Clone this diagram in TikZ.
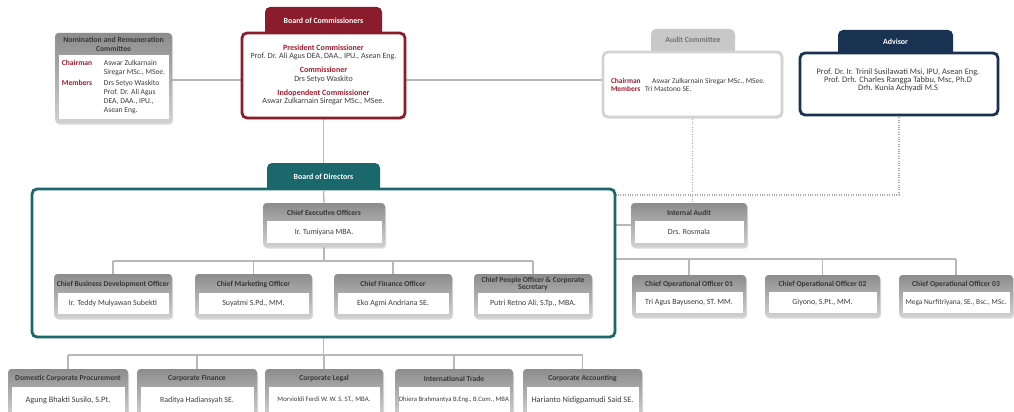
\documentclass[tikz,border=0pt]{standalone}
\usepackage{fontspec}
\setmainfont{Carlito}
\usetikzlibrary{shadows}
\pgfdeclarelayer{canvas}
\pgfdeclarelayer{background}
\pgfsetlayers{canvas,background,main}
\definecolor{boxmaroon}{RGB}{138,28,43}
\definecolor{labred}{RGB}{160,30,48}
\definecolor{bodteal}{RGB}{27,104,108}
\definecolor{advnavy}{RGB}{25,50,82}
\definecolor{conngray}{RGB}{184,184,184}
\definecolor{dotgray}{RGB}{170,170,170}
\definecolor{txt}{RGB}{60,60,60}
\definecolor{hdrtxt}{RGB}{55,55,55}
\definecolor{auditgray}{RGB}{200,200,200}
\newcommand\fsz[2]{\fontsize{#1}{#2}\selectfont}
\newcommand\rl[1]{\textcolor{labred}{\bfseries #1}}
\tikzset{
  every node/.style={inner sep=0pt, outer sep=0pt},
  conn/.style={draw=conngray, line width=1.4pt},
  dotconn/.style={draw=dotgray, line width=1.2pt, dash pattern=on 1pt off 1.4pt},
  gouter/.style={rounded corners=3.5pt, top color=black!45, bottom color=black!18,
    drop shadow={shadow xshift=1pt, shadow yshift=-1.5pt, opacity=.3}},
  ginner/.style={fill=white},
  hdr/.style={font=\fsz{7.6}{7.3}\bfseries, text=hdrtxt, align=center},
  nm/.style={font=\fsz{7.9}{9}, text=txt, align=center},
  tabshape/.style={rounded corners=5pt, anchor=north},
  cbox/.style={fill=white, rounded corners=5pt, line width=2.8pt},
  tabtitle/.style={font=\fsz{7.9}{8}\bfseries, text=white},
}
% name, cx, top, width, height, header height, header, body
\newcommand\gbox[8]{%
  \node[gouter, minimum width=#4, minimum height=#5, anchor=north] (#1) at (#2,#3) {};
  \node[ginner, nm, minimum width=#4-7, minimum height=#5-#6-4, anchor=north] (#1-body) at (#2,#3+#6) {#8};
  \node[hdr] (#1-head) at (#2,#3+#6/2+0.5) {#7};
}
\begin{document}
\begin{tikzpicture}[x=1pt,y=-1pt]
\useasboundingbox (0,0) rectangle (1014,412);
\clip (0,0) rectangle (1014,412);
\begin{pgfonlayer}{canvas}
\fill[white] (0,0) rectangle (1014,412);
\end{pgfonlayer}

% ---- Board of Commissioners
\node[tabshape, fill=boxmaroon, minimum width=117, minimum height=32] (boc-tab) at (323.5,7) {};
\node[cbox, draw=boxmaroon, minimum width=163, minimum height=85,
  drop shadow={shadow xshift=1pt, shadow yshift=-1.5pt, opacity=.25}] (boc) at (323.5,75.5) {};
\node[tabtitle] (boc-title) at (323.5,20.5) {Board of Commissioners};
\node[font=\fsz{8}{8.5}, text=txt, align=center] (boc-text) at (323.5,75)
  {\rl{President Commissioner}\\Prof. Dr. Ali Agus DEA, DAA., IPU., Asean Eng.\\[5.5pt]
   \rl{Commissioner}\\Drs Setyo Waskito\\[5.5pt]
   \rl{Indopendent Commissioner}\\Aswar Zulkarnain Siregar MSc., MSee.};

% ---- Audit Committee
\node[tabshape, fill=auditgray, minimum width=84, minimum height=30] (audit-tab) at (693,29) {};
\node[cbox, draw=auditgray!80, minimum width=179, minimum height=65,
  drop shadow={shadow xshift=1pt, shadow yshift=-1.5pt, opacity=.25}] (audit) at (692.5,84.5) {};
\node[font=\fsz{7.8}{8}\bfseries, text=black!55] (audit-title) at (693,40) {Audit Committee};
\node[font=\fsz{7.4}{7.4}, text=txt, align=left, anchor=west] (audit-text) at (611,85)
  {\makebox[41pt][l]{\rl{Chairman}}Aswar Zulkarnain Siregar MSc., MSee.\\[0.6pt]
   \makebox[34pt][l]{\rl{Members}}Tri Mastono SE.};

% ---- Advisor
\node[tabshape, fill=advnavy, minimum width=115, minimum height=30] (adv-tab) at (895.5,30) {};
\node[cbox, draw=advnavy, minimum width=198, minimum height=62] (adv) at (899,84) {};
\node[tabtitle] (adv-title) at (895.5,41.5) {Advisor};
\node[font=\fsz{8.4}{8.4}, text=txt, align=center] (adv-text) at (898,80.5)
  {Prof. Dr. Ir. Trinil Susilawati Msi, IPU, Asean Eng.\\[-0.6pt]
   Prof. Drh. Charles Rangga Tabbu, Msc, Ph.D\\[-0.6pt]
   Drh. Kunia Achyadi M.S};

% ---- Board of Directors
\node[tabshape, fill=bodteal, minimum width=113, minimum height=32] (bod-tab) at (323.5,163) {};
\node[cbox, draw=bodteal, minimum width=583, minimum height=148] (bod) at (323.5,263) {};
\node[tabtitle] (bod-title) at (323.5,176.5) {Board of Directors};

% ---- grey boxes
\gbox{nrc}{113.5}{33}{117}{90}{22}{\fsz{7.8}{7.5}Nomination and Remuneration\\[1.5pt]Committee}
  {\fsz{7.6}{9}\begin{tabular}{@{}p{42pt}@{}l@{}}
   \rl{Chairman} & Aswar Zulkarnain\\
                 & Siregar MSc., MSee.\\[2pt]
   \rl{Members}  & Drs Setyo Waskito\\
                 & Prof. Dr. Ali Agus\\
                 & DEA, DAA., IPU.,\\
                 & Asean Eng.
   \end{tabular}}
\gbox{ceo}{324}{203}{122}{44}{18}{Chief Executive Officers}{Ir. Tumiyana MBA.}
\gbox{ia}{689}{203}{116}{44}{18}{Internal Audit}{Drs. Rosmala}
\gbox{cbd}{113}{274}{118}{44}{19}{Chief Business Development Officer}{Ir. Teddy Mulyawan Subekti}
\gbox{cmo}{253.5}{274}{117}{44}{19}{Chief Marketing Officer}{Suyatmi S.Pd., MM.}
\gbox{cfo}{393}{274}{118}{44}{19}{Chief Finance Officer}{Eko Agmi Andriana SE.}
\gbox{cpo}{533}{274}{118}{44}{19}{Chief People Officer \& Corporate\\Secretary}{Putri Retno Ali, S.Tp., MBA.}
\gbox{coo1}{689}{275}{114}{42}{17}{Chief Operational Officer 01}{Tri Agus Bayuseno, ST. MM.}
\gbox{coo2}{822.5}{275}{115}{42}{17}{Chief Operational Officer 02}{Giyono, S.Pt., MM.}
\gbox{coo3}{956}{275}{114}{42}{17}{Chief Operational Officer 03}{\fsz{7.4}{8}Mega Nurfitriyana, SE., Bsc., MSc.}
\gbox{b1}{68}{369}{120}{48}{18}{Domestic Corporate Procurement}{\fsz{8.3}{9}Agung Bhakti Susilo, S.Pt.}
\gbox{b2}{197}{369}{120}{48}{18}{Corporate Finance}{Raditya Hadiansyah SE.}
\gbox{b3}{324}{369}{118}{48}{18}{Corporate Legal}{\fsz{6.8}{7}Morvioldi Ferdi W. W. S. ST., MBA.}
\gbox{b4}{454}{369}{118}{48}{18}{International Trade}{\fsz{6.7}{7}Dhiera Brahmantya B.Eng., B.Com., MBA}
\gbox{b5}{582.5}{369}{119}{48}{18}{Corporate Accounting}{\fsz{8.3}{9}Harianto Nidigpamudi Said SE.}

% ---- connectors behind
\coordinate (yA) at (0,80);
\coordinate (busB) at (0,259);
\coordinate (busC) at (0,355);
\coordinate (dotY) at (0,195);
\begin{pgfonlayer}{background}
  \draw[conn] (nrc.east |- yA) -- (boc.west |- yA);
  \draw[conn] (boc.east |- yA) -- (audit.west |- yA);
  \draw[conn] (boc.south) -- (bod-tab.north);
  \draw[conn] (bod.east |- ia.west) -- (ia.west);
  \draw[conn] (bod.east |- busB) -- (coo3.north |- busB);
  \foreach \n in {coo1,coo2,coo3} \draw[conn] (\n.north |- busB) -- (\n.north);
  \draw[conn] (bod.south) -- (bod.south |- busC);
  \draw[conn] (b1.north |- busC) -- (b5.north |- busC);
  \foreach \n in {b1,b2,b3,b4,b5} \draw[conn] (\n.north |- busC) -- (\n.north);
  \draw[dotconn] (audit.south) -- (audit.south |- ia.north);
  \draw[dotconn] (adv.south) -- (adv.south |- dotY) -- (bod.east |- dotY);
\end{pgfonlayer}

% ---- connectors inside Board of Directors
\coordinate (busA) at (0,261);
\draw[conn] ([yshift=-1.4pt]bod.north) -- (ceo.north);
\draw[conn] (ceo.south) -- (ceo.south |- busA);
\draw[conn] (cbd.north |- busA) -- (cpo.north |- busA);
\foreach \n in {cbd,cmo,cfo,cpo} \draw[conn] (\n.north |- busA) -- (\n.north);
\end{tikzpicture}
\end{document}
